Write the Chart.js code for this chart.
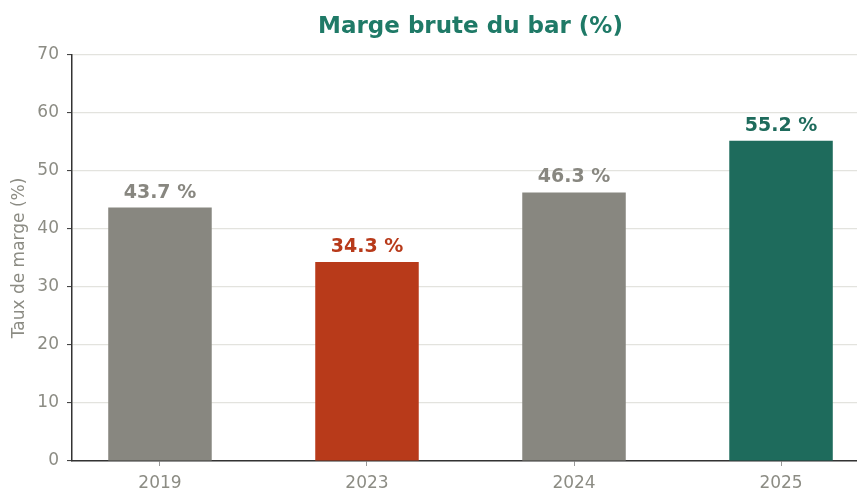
<!DOCTYPE html>
<html>
<head>
<meta charset="utf-8">
<script src="https://cdn.jsdelivr.net/npm/chart.js@4/dist/chart.umd.min.js"></script>
<style>
  html, body { margin: 0; padding: 0; background: #ffffff; }
  #wrap { width: 857px; height: 488px; position: relative; }
</style>
</head>
<body>
<div id="wrap"><canvas id="c" width="857" height="488"></canvas></div>
<script>
const titleText = 'Marge brute du bar (%)';
const yAxisTitle = 'Taux de marge (%)';
const categories = ['2019', '2023', '2024', '2025'];
const values = [43.7, 34.3, 46.3, 55.2];
const valueLabels = ['43.7 %', '34.3 %', '46.3 %', '55.2 %'];
const barColors = ['#888780', '#b83a1a', '#888780', '#1e6b5c'];
const labelColors = ['#888780', '#b83a1a', '#888780', '#1e6b5c'];
const yTicks = [0, 10, 20, 30, 40, 50, 60, 70];

const FONT = "'DejaVu Sans', sans-serif";
const GRAY = '#8c8c84';

const points = values.map((v, i) => ({ x: i, y: v }));

const titlePlugin = {
  id: 'axTitle',
  afterDraw(chart) {
    const xs = chart.scales.x;
    const ctx = chart.ctx;
    const cx = (xs.getPixelForValue(-0.425) + xs.getPixelForValue(3.425)) / 2;
    ctx.save();
    ctx.font = 'bold 23px ' + FONT;
    ctx.fillStyle = '#1f7a67';
    ctx.textAlign = 'center';
    ctx.textBaseline = 'alphabetic';
    ctx.fillText(titleText, cx, 33);
    ctx.restore();
  }
};

const valueLabelPlugin = {
  id: 'valueLabels',
  afterDatasetsDraw(chart) {
    const meta = chart.getDatasetMeta(0);
    const ctx = chart.ctx;
    ctx.save();
    ctx.font = 'bold 19px ' + FONT;
    ctx.textAlign = 'center';
    ctx.textBaseline = 'alphabetic';
    meta.data.forEach((bar, i) => {
      ctx.fillStyle = labelColors[i];
      ctx.fillText(valueLabels[i], bar.x, bar.y - 10);
    });
    ctx.restore();
  }
};

new Chart(document.getElementById('c'), {
  type: 'bar',
  data: {
    datasets: [{
      data: points,
      backgroundColor: barColors,
      borderWidth: 0,
      barPercentage: 0.5,
      categoryPercentage: 1.0
    }]
  },
  options: {
    responsive: false,
    animation: false,
    events: [],
    layout: { padding: { top: 55, right: 0, bottom: 0, left: 0 } },
    plugins: {
      legend: { display: false },
      title: { display: false },
      tooltip: { enabled: false }
    },
    scales: {
      x: {
        type: 'linear',
        offset: false,
        min: -0.425,
        max: 3.367,
        afterBuildTicks(scale) { scale.ticks = categories.map((c, i) => ({ value: i })); },
        afterFit(scale) { scale.height = 27; },
        grid: { display: true, offset: false, drawOnChartArea: false, drawTicks: true, tickLength: 5, color: '#999999', lineWidth: 1 },
        border: { display: true, color: '#333333', width: 1.5 },
        ticks: {
          color: GRAY,
          font: { family: FONT, size: 17 },
          padding: 7,
          maxRotation: 0,
          autoSkip: false,
          callback: (v) => categories[v] !== undefined ? categories[v] : ''
        }
      },
      y: {
        min: 0,
        max: 70,
        afterBuildTicks(scale) { scale.ticks = yTicks.map(v => ({ value: v })); },
        afterFit(scale) { scale.width = 72; },
        grid: { color: '#e3e3de', lineWidth: 1.2, tickLength: 5, tickColor: '#333333', tickWidth: 1 },
        border: { display: true, color: '#333333', width: 1.5 },
        title: {
          display: true,
          text: yAxisTitle,
          color: GRAY,
          font: { family: FONT, size: 17 },
          padding: { top: 9, bottom: 0 }
        },
        ticks: {
          color: GRAY,
          font: { family: FONT, size: 17 },
          padding: 8
        }
      }
    }
  },
  plugins: [titlePlugin, valueLabelPlugin]
});
</script>
</body>
</html>
